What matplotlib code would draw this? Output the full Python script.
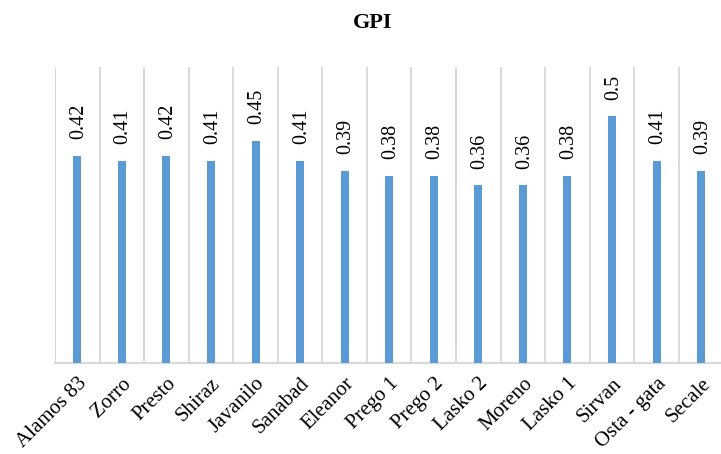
import matplotlib
matplotlib.use("Agg")
from matplotlib import pyplot as plt
import numpy as np

cultivars = ["Alamos 83", "Zorro", "Presto", "Shiraz", "Javanilo", "Sanabad",
             "Eleanor", "Prego 1", "Prego 2", "Lasko 2", "Moreno", "Lasko 1",
             "Sirvan", "Osta - gata", "Secale"]
gpi = [0.42, 0.41, 0.42, 0.41, 0.45, 0.41, 0.39, 0.38, 0.38, 0.36, 0.36, 0.38,
       0.5, 0.41, 0.39]
labels = ["0.42", "0.41", "0.42", "0.41", "0.45", "0.41", "0.39", "0.38", "0.38",
          "0.36", "0.36", "0.38", "0.5", "0.41", "0.39"]

plt.rcParams['font.family'] = ['Liberation Serif', 'DejaVu Serif']

fig = plt.figure(figsize=(7.21, 4.54), dpi=100)
ax = fig.add_axes([0.0763, 0.2004, 0.927, 0.652])

x = np.arange(len(cultivars))
ax.bar(x, gpi, width=0.18, color="#5B9BD5", zorder=3)

for xi, v, lab in zip(x, gpi, labels):
    ax.annotate(lab, (xi, v), xytext=(1, 12), textcoords="offset points",
                rotation=90, ha="center", va="bottom", fontsize=14.5)

ax.set_xlim(-0.5, len(cultivars) - 0.5)
ax.set_ylim(0, 0.6)

# vertical grid lines between categories
for b in np.arange(-0.5, len(cultivars), 1.0):
    ax.axvline(b, color="#d9d9d9", lw=1.4, zorder=1)

ax.set_xticks(x)
ax.set_xticklabels(cultivars, rotation=45, ha="right", rotation_mode="anchor",
                   fontsize=15)
ax.tick_params(axis="x", length=0, pad=8)
ax.set_yticks([])
for s in ["top", "right", "left"]:
    ax.spines[s].set_visible(False)
ax.spines["bottom"].set_color("#d9d9d9")
ax.spines["bottom"].set_linewidth(1.6)

fig.text(0.517, 0.95, "GPI", ha="center", va="center", fontsize=16,
         fontweight="bold")

fig.savefig("out.png", dpi=100)
